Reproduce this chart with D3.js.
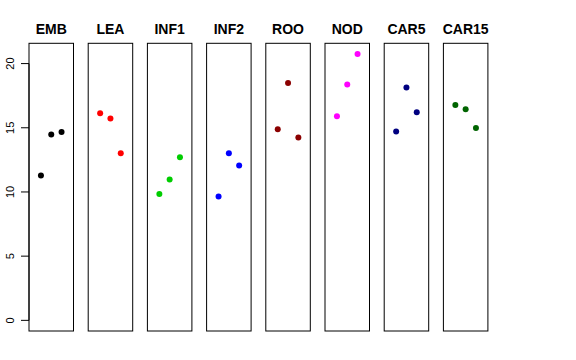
<!DOCTYPE html>
<html>
<head>
<meta charset="utf-8">
<script src="https://cdn.jsdelivr.net/npm/d3@7"></script>
<style>
  body { margin: 0; background: #fff; }
  svg { display: block; font-family: "Liberation Sans", Arial, sans-serif; }
</style>
</head>
<body>
<div id="chart"></div>
<script>
// panel names, colours and the three values per panel
var groups = ["EMB", "LEA", "INF1", "INF2", "ROO", "NOD", "CAR5", "CAR15"];
var colors = ["#000000", "#FF0000", "#00CD00", "#0000FF", "#8B0000", "#FF00FF", "#000080", "#006400"];
var values = [
    [11.28, 14.47, 14.68],
    [16.13, 15.72, 13.02],
    [9.85, 10.97, 12.71],
    [9.65, 13.02, 12.06],
    [14.89, 18.49, 14.24],
    [15.90, 18.37, 20.75],
    [14.71, 18.13, 16.21],
    [16.78, 16.44, 14.99]
];
var positions = [1, 2, 3];
var yTicks = [0, 5, 10, 15, 20];

var width = 576, height = 360;
// note: "top" is taken by window.top, so use plotTop
var plotTop = 43.3, plotBottom = 331;
var panelW = 44.5, step = 59.2, left0 = 29;

var svg = d3.select("#chart").append("svg")
    .attr("width", width)
    .attr("height", height);

// y scale shared by all panels, R style 4% padding
var yMax = d3.max(values, function(v){ return d3.max(v); });
var pad = yMax * 0.04;
var y = d3.scaleLinear()
    .domain([-pad, yMax + pad])
    .range([plotBottom, plotTop]);

// x scale inside one panel (xlim 0..4 padded)
var x = d3.scaleLinear()
    .domain([-0.16, 4.16])
    .range([0, panelW]);

// y axis on the left of the first panel
var axis = svg.append("g").attr("transform", "translate(" + left0 + ",0)");
axis.selectAll("line.tick")
    .data(yTicks)
    .enter()
    .append("line")
    .attr("class", "tick")
    .attr("x1", -8).attr("x2", 0)
    .attr("y1", function(d){ return y(d); })
    .attr("y2", function(d){ return y(d); })
    .attr("stroke", "#000");
axis.append("line")
    .attr("x1", 0).attr("x2", 0)
    .attr("y1", y(0)).attr("y2", y(20))
    .attr("stroke", "#000");
axis.selectAll("text")
    .data(yTicks)
    .enter()
    .append("text")
    .attr("transform", function(d){ return "translate(" + (-15) + "," + y(d) + ") rotate(-90)"; })
    .attr("text-anchor", "middle")
    .attr("font-size", 11)
    .text(function(d){ return d; });

var panels = svg.selectAll("g.panel")
    .data(groups)
    .enter()
    .append("g")
    .attr("class", "panel")
    .attr("transform", function(d, i){ return "translate(" + (left0 + i * step) + ",0)"; });

panels.append("rect")
    .attr("x", 0)
    .attr("y", plotTop)
    .attr("width", panelW)
    .attr("height", plotBottom - plotTop)
    .attr("fill", "none")
    .attr("stroke", "#000");

panels.append("text")
    .attr("x", panelW / 2)
    .attr("y", 34)
    .attr("text-anchor", "middle")
    .attr("font-size", 14)
    .attr("font-weight", "bold")
    .text(function(d){ return d; });

panels.each(function(d, i){
    d3.select(this).selectAll("circle")
        .data(values[i])
        .enter()
        .append("circle")
        .attr("cx", function(v, j){ return x(positions[j]); })
        .attr("cy", function(v){ return y(v); })
        .attr("r", 3)
        .attr("fill", colors[i]);
});
</script>
</body>
</html>
